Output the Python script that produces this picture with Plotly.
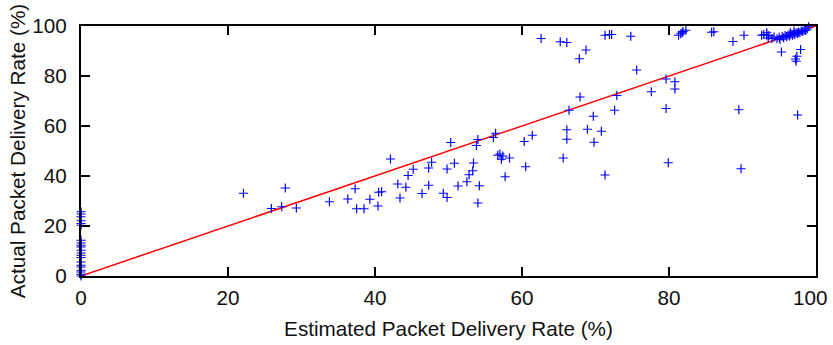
import plotly.graph_objects as go

# Points at estimated rate 0
zero_est_actual = [25.7, 24.8, 23.7, 22.1, 21.0, 20.3, 14.3, 13.2, 12.3, 11.6, 10.3, 9.2,
                   8.3, 7.4, 5.6, 4.3, 3.6, 2.3, 1.6, 0.7, 0.0]

estimated = [22.1, 25.9, 27.3, 27.8, 29.3, 33.8, 36.3, 37.3, 37.5, 38.5, 39.3, 40.5, 40.9, 40.4,
             42.1, 43.1, 43.4, 44.2, 44.5, 45.2, 46.4, 47.3, 47.3, 47.7, 49.3, 49.8, 49.8, 50.8,
             50.3, 51.3, 52.5, 52.8, 53.3, 53.4, 54.2, 54.0, 53.8, 54.0, 56.1, 56.4, 56.7, 57.0,
             57.4, 57.2, 58.3, 57.7, 60.3, 61.4, 60.5, 62.6, 65.2, 66.1, 65.6, 66.1, 66.1, 66.4,
             67.8, 68.7, 67.9, 68.9, 69.7, 69.8, 70.8, 71.3, 71.3, 71.9, 72.2, 72.6, 72.9, 74.8,
             75.6, 77.6, 79.6, 79.6, 79.9, 80.8, 80.8, 81.3, 81.6, 81.8, 81.9, 82.3, 85.8, 86.1,
             88.7, 90.2, 89.5, 89.8, 92.6, 92.9, 93.3, 93.6, 95.3, 97.2, 97.3, 97.4, 97.9, 97.5,
             99.0,
             93.5, 94.0, 94.3, 94.7, 95.0, 95.1, 95.4, 95.6, 95.8, 96.0, 96.2, 96.4, 96.6, 96.8,
             97.0, 97.1, 97.3, 97.5, 97.6, 97.8, 98.0, 98.2, 98.4, 98.6, 98.8, 97.0, 96.5, 93.3]
actual = [33.1, 27.0, 27.7, 35.2, 27.2, 29.7, 30.8, 34.9, 26.9, 26.9, 30.7, 33.5, 33.7, 28.0,
          46.8, 36.8, 31.2, 35.5, 40.2, 42.7, 33.0, 36.3, 43.2, 45.5, 33.1, 31.4, 42.8, 45.1,
          53.4, 36.0, 37.7, 40.5, 42.1, 45.2, 36.1, 29.2, 52.2, 54.6, 55.4, 57.1, 48.3, 48.8,
          48.0, 46.7, 47.2, 39.7, 53.8, 56.3, 43.7, 95.0, 93.7, 93.4, 47.2, 58.5, 54.7, 66.3,
          86.9, 90.4, 71.6, 58.7, 63.9, 53.5, 57.9, 40.4, 96.3, 96.6, 96.6, 66.3, 72.2, 95.9,
          82.4, 73.7, 78.8, 67.0, 45.3, 77.7, 74.8, 96.3, 96.9, 97.3, 97.8, 98.3, 97.5, 97.7,
          93.8, 96.3, 66.5, 42.9, 96.3, 96.6, 96.3, 96.2, 89.6, 86.8, 85.9, 87.9, 90.6, 64.4,
          99.7,
          95.2, 95.0, 95.6, 94.9, 95.5, 94.6, 95.9, 95.3, 96.2, 95.7, 96.4, 96.0, 96.7, 96.3,
          97.0, 96.6, 97.3, 97.0, 97.6, 97.3, 98.0, 97.8, 98.4, 98.2, 98.8, 98.0, 97.4, 97.3]

ideal = [0, 100]
tick_vals = [0, 20, 40, 60, 80, 100]
tick_labels = ["0", "20", "40", "60", "80", "100"]

xs = [0.0] * len(zero_est_actual) + estimated
ys = zero_est_actual + actual

fig = go.Figure()
fig.add_trace(go.Scatter(
    x=ideal, y=ideal, mode="lines",
    line=dict(color="rgb(255,0,0)", width=1.5),
    showlegend=False, hoverinfo="skip"))
fig.add_trace(go.Scatter(
    x=xs, y=ys, mode="markers",
    marker=dict(symbol="cross-thin-open", size=6.5,
                line=dict(color="rgb(0,0,255)", width=1.2), color="rgb(0,0,255)"),
    cliponaxis=False, showlegend=False))

font = dict(family="Liberation Sans, Arial, sans-serif", size=20.7, color="#111111")
axis_common = dict(
    range=[0, 100], tickvals=tick_vals,
    ticks="inside", ticklen=9, tickwidth=1.5, tickcolor="black",
    showline=True, linecolor="black", linewidth=2, mirror="ticks",
    showgrid=False, zeroline=False, tickfont=font,
)
# last x label nudged left (as in the reference) so it stays inside the canvas
x_labels = tick_labels[:-1] + [tick_labels[-1] + "\u00a0\u00a0"]

fig.update_layout(
    width=833, height=345,
    margin=dict(l=81, r=17, t=26, b=69, autoexpand=False),
    paper_bgcolor="white", plot_bgcolor="white",
    font=font,
    xaxis=dict(axis_common, ticktext=x_labels, ticklabelstandoff=2, ticklabeloverflow="allow",
               title=dict(text="Estimated Packet Delivery Rate (%)", font=font, standoff=14)),
    yaxis=dict(axis_common, ticktext=tick_labels, ticklabelstandoff=8,
               title=dict(text="Actual Packet Delivery Rate (%)", font=font, standoff=1)),
)
fig.write_html("out.html", config={"displayModeBar": False},
               post_script="document.body.style.margin='0';document.body.style.overflow='hidden';")
